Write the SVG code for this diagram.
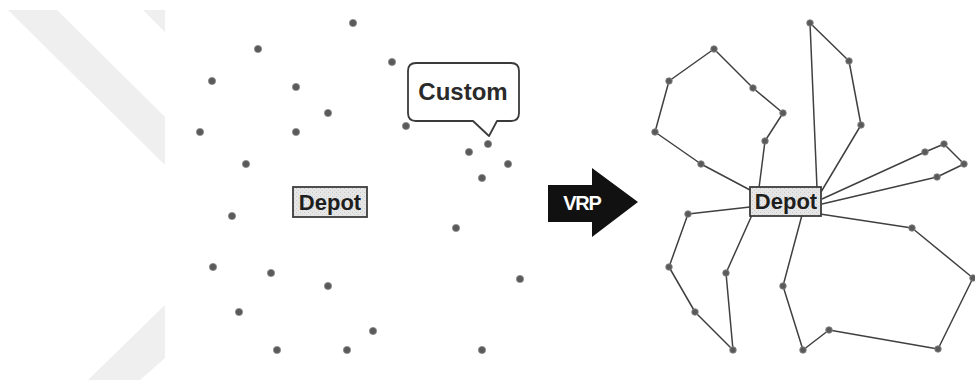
<svg xmlns="http://www.w3.org/2000/svg" width="975" height="383" viewBox="0 0 975 383">
<style>
.bg{fill:#efefef}
.dot{fill:#5a5a5a;stroke:#8a8a8a;stroke-width:0.8}
.rt{fill:none;stroke:#404040;stroke-width:1.5;stroke-linejoin:round}
.box{stroke:#3c3c3c;stroke-width:1.8}
.lbl{font-family:"Liberation Sans",Arial,sans-serif;font-weight:bold;fill:#1e1e1e;text-anchor:middle}
</style>
<defs>
<pattern id="spk" width="4" height="4" patternUnits="userSpaceOnUse">
<rect width="4" height="4" fill="#e6e6e6"/>
<rect x="0" y="0" width="1" height="1" fill="#c8c8c8"/>
<rect x="2" y="2" width="1" height="1" fill="#d0d0d0"/>
</pattern>
</defs>
<rect width="975" height="383" fill="#ffffff"/>
<g id="background">
<polygon class="bg" points="8,10 57,10 165,117 165,165"/>
<polygon class="bg" points="143,10 165,10 165,32"/>
<polygon class="bg" points="88,380 140,380 165,358 165,305"/>
</g>
<g id="customers-left">
<g id="l1"><circle class="dot" cx="353" cy="23" r="3.6"/></g>
<g id="l2"><circle class="dot" cx="258" cy="49" r="3.6"/></g>
<g id="l3"><circle class="dot" cx="392" cy="62" r="3.6"/></g>
<g id="l4"><circle class="dot" cx="212" cy="81" r="3.6"/></g>
<g id="l5"><circle class="dot" cx="296" cy="87" r="3.6"/></g>
<g id="l6"><circle class="dot" cx="328" cy="113" r="3.6"/></g>
<g id="l7"><circle class="dot" cx="406" cy="126" r="3.6"/></g>
<g id="l8"><circle class="dot" cx="200" cy="132" r="3.6"/></g>
<g id="l9"><circle class="dot" cx="296" cy="132" r="3.6"/></g>
<g id="l10"><circle class="dot" cx="246" cy="164" r="3.6"/></g>
<g id="l11"><circle class="dot" cx="469" cy="152" r="3.6"/></g>
<g id="l12"><circle class="dot" cx="488" cy="144" r="3.6"/></g>
<g id="l13"><circle class="dot" cx="508" cy="164" r="3.6"/></g>
<g id="l14"><circle class="dot" cx="482" cy="178" r="3.6"/></g>
<g id="l15"><circle class="dot" cx="232" cy="216" r="3.6"/></g>
<g id="l16"><circle class="dot" cx="456" cy="228" r="3.6"/></g>
<g id="l17"><circle class="dot" cx="213" cy="267" r="3.6"/></g>
<g id="l18"><circle class="dot" cx="271" cy="273" r="3.6"/></g>
<g id="l19"><circle class="dot" cx="328" cy="286" r="3.6"/></g>
<g id="l20"><circle class="dot" cx="520" cy="279" r="3.6"/></g>
<g id="l21"><circle class="dot" cx="239" cy="312" r="3.6"/></g>
<g id="l22"><circle class="dot" cx="373" cy="331" r="3.6"/></g>
<g id="l23"><circle class="dot" cx="277" cy="350" r="3.6"/></g>
<g id="l24"><circle class="dot" cx="347" cy="350" r="3.6"/></g>
<g id="l25"><circle class="dot" cx="482" cy="350" r="3.6"/></g>
</g>
<g id="depot-left">
<rect class="box" x="293" y="187" width="74" height="30" style="fill:url(#spk)"/>
<text class="lbl" x="330" y="210" font-size="22">Depot</text>
</g>
<g id="callout-custom">
<path d="M416,63 H511 Q519,63 519,71 V113 Q519,121 511,121 H497 L489,136 L473,121 H416 Q408,121 408,113 V71 Q408,63 416,63 Z" fill="#ffffff" stroke="#3a3a3a" stroke-width="1.8" stroke-linejoin="round"/>
<text class="lbl" x="463" y="100" font-size="24" style="fill:#2a2a2a">Custom</text>
</g>
<g id="arrow-vrp">
<polygon points="548,185 592,185 592,168 638,202 592,237 592,222 548,222" fill="#111111"/>
<text x="582" y="210" font-family="'Liberation Sans',Arial,sans-serif" font-weight="bold" font-size="20" fill="#ffffff" text-anchor="middle" letter-spacing="-1.2">VRP</text>
</g>
<g id="connectors">
<polyline class="rt" points="750,190 701,164 655,132 669,81 714,49 753,88 783,113 765,141 759,188"/>
<polyline class="rt" points="817,188 810,23 849,61 861,125 821,192"/>
<polyline class="rt" points="822,199 925,152 944,144 964,164 937,177 822,204"/>
<polyline class="rt" points="750,207 688,214 669,267 695,312 733,350 726,273 752,215"/>
<polyline class="rt" points="802,215 783,286 803,350 829,330 938,349 973,278 912,228 820,214"/>
</g>
<g id="customers-right">
<g id="r1"><circle class="dot" cx="714" cy="49" r="3.3"/></g>
<g id="r2"><circle class="dot" cx="669" cy="81" r="3.3"/></g>
<g id="r3"><circle class="dot" cx="753" cy="88" r="3.3"/></g>
<g id="r4"><circle class="dot" cx="783" cy="113" r="3.3"/></g>
<g id="r5"><circle class="dot" cx="655" cy="132" r="3.3"/></g>
<g id="r6"><circle class="dot" cx="765" cy="141" r="3.3"/></g>
<g id="r7"><circle class="dot" cx="701" cy="164" r="3.3"/></g>
<g id="r8"><circle class="dot" cx="810" cy="23" r="3.3"/></g>
<g id="r9"><circle class="dot" cx="849" cy="61" r="3.3"/></g>
<g id="r10"><circle class="dot" cx="861" cy="125" r="3.3"/></g>
<g id="r11"><circle class="dot" cx="925" cy="152" r="3.3"/></g>
<g id="r12"><circle class="dot" cx="944" cy="144" r="3.3"/></g>
<g id="r13"><circle class="dot" cx="964" cy="164" r="3.3"/></g>
<g id="r14"><circle class="dot" cx="937" cy="177" r="3.3"/></g>
<g id="r15"><circle class="dot" cx="688" cy="214" r="3.3"/></g>
<g id="r16"><circle class="dot" cx="669" cy="267" r="3.3"/></g>
<g id="r17"><circle class="dot" cx="726" cy="273" r="3.3"/></g>
<g id="r18"><circle class="dot" cx="783" cy="286" r="3.3"/></g>
<g id="r19"><circle class="dot" cx="695" cy="312" r="3.3"/></g>
<g id="r20"><circle class="dot" cx="733" cy="350" r="3.3"/></g>
<g id="r21"><circle class="dot" cx="803" cy="350" r="3.3"/></g>
<g id="r22"><circle class="dot" cx="829" cy="330" r="3.3"/></g>
<g id="r23"><circle class="dot" cx="938" cy="349" r="3.3"/></g>
<g id="r24"><circle class="dot" cx="912" cy="228" r="3.3"/></g>
<g id="r25"><circle class="dot" cx="973" cy="278" r="3.3"/></g>
</g>
<g id="depot-right">
<rect class="box" x="750" y="187" width="71" height="29" style="fill:url(#spk)"/>
<text class="lbl" x="786" y="209" font-size="22">Depot</text>
</g>
</svg>
